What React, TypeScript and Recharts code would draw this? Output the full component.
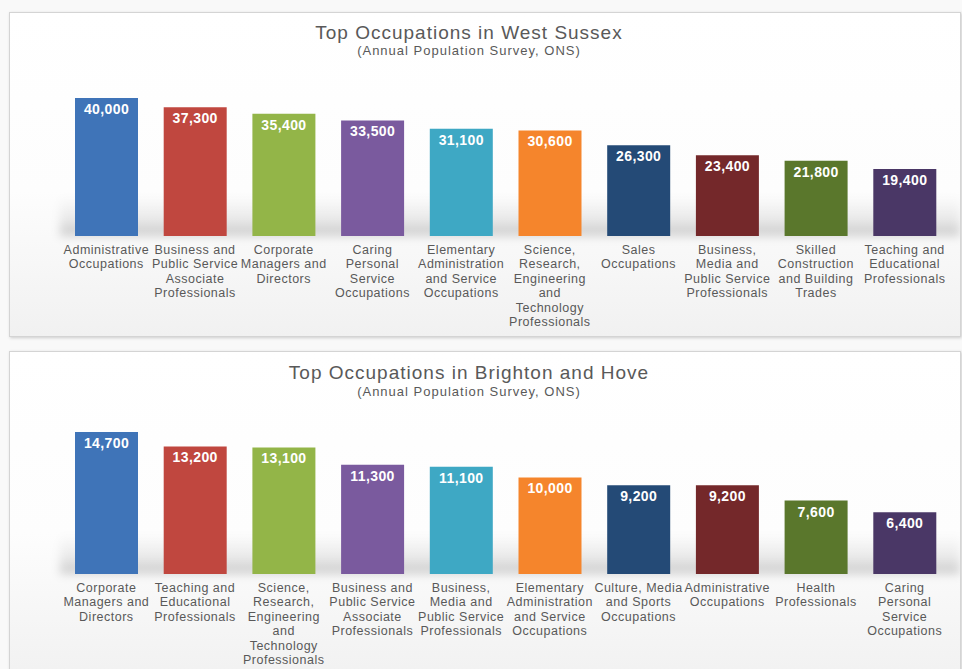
import { Bar, BarChart, Cell, LabelList, XAxis, YAxis } from "recharts";

const sussexCategories = [
  "Administrative\nOccupations",
  "Business and\nPublic Service\nAssociate\nProfessionals",
  "Corporate\nManagers and\nDirectors",
  "Caring\nPersonal\nService\nOccupations",
  "Elementary\nAdministration\nand Service\nOccupations",
  "Science,\nResearch,\nEngineering\nand\nTechnology\nProfessionals",
  "Sales\nOccupations",
  "Business,\nMedia and\nPublic Service\nProfessionals",
  "Skilled\nConstruction\nand Building\nTrades",
  "Teaching and\nEducational\nProfessionals",
];
const sussexValues = [40000, 37300, 35400, 33500, 31100, 30600, 26300, 23400, 21800, 19400];

const brightonCategories = [
  "Corporate\nManagers and\nDirectors",
  "Teaching and\nEducational\nProfessionals",
  "Science,\nResearch,\nEngineering\nand\nTechnology\nProfessionals",
  "Business and\nPublic Service\nAssociate\nProfessionals",
  "Business,\nMedia and\nPublic Service\nProfessionals",
  "Elementary\nAdministration\nand Service\nOccupations",
  "Culture, Media\nand Sports\nOccupations",
  "Administrative\nOccupations",
  "Health\nProfessionals",
  "Caring\nPersonal\nService\nOccupations",
];
const brightonValues = [14700, 13200, 13100, 11300, 11100, 10000, 9200, 9200, 7600, 6400];

const barColors = [
  "#3f74b8",
  "#c0473f",
  "#93b548",
  "#7a5a9e",
  "#3ea8c4",
  "#f5852c",
  "#244a76",
  "#74282a",
  "#5a772c",
  "#4a3766",
];

const FONT = "'Liberation Sans', Arial, sans-serif";

function CategoryTick(props: any) {
  const { x, y, payload } = props;
  const lines = String(payload.value).split("\n");
  return (
    <text
      x={x}
      y={y + 18}
      textAnchor="middle"
      fill="#595959"
      fontSize={12.5}
      fontFamily={FONT}
      letterSpacing={0.5}
    >
      {lines.map((line, i) => (
        <tspan key={i} x={x} dy={i === 0 ? 0 : 14.4}>
          {line}
        </tspan>
      ))}
    </text>
  );
}

interface PanelProps {
  title: string;
  categories: string[];
  values: number[];
  top: number;
  height: number;
  plotTop: number;
  plotBottomMargin: number;
  baseline: number;
  titleY: number;
  subtitleY: number;
}

function OccupationPanel({
  title,
  categories,
  values,
  top,
  height,
  plotTop,
  plotBottomMargin,
  baseline,
  titleY,
  subtitleY,
}: PanelProps) {
  const data = categories.map((name, i) => ({ name, value: values[i] }));
  return (
    <div
      style={{
        position: "absolute",
        left: 9,
        top,
        width: 952,
        height,
        border: "1px solid #d4d4d4",
        boxShadow: "1px 1px 3px rgba(0,0,0,0.18)",
        background: "linear-gradient(to bottom, #ffffff 0%, #fdfdfd 55%, #f1f1f1 100%)",
        boxSizing: "border-box",
        overflow: "hidden",
      }}
    >
      <div
        style={{
          position: "absolute",
          left: 50,
          width: 900,
          top: baseline - 40,
          height: 40,
          background:
            "linear-gradient(to bottom, rgba(0,0,0,0) 0%, rgba(0,0,0,0.07) 60%, rgba(0,0,0,0.19) 100%)",
          filter: "blur(5px)",
        }}
      />
      <div
        style={{
          position: "absolute",
          left: 0,
          width: 918,
          top: titleY - 12,
          textAlign: "center",
          fontFamily: FONT,
          fontSize: 19,
          letterSpacing: 1,
          color: "#595959",
          lineHeight: "24px",
        }}
      >
        {title}
      </div>
      <div
        style={{
          position: "absolute",
          left: 0,
          width: 918,
          top: subtitleY - 8,
          textAlign: "center",
          fontFamily: FONT,
          fontSize: 13,
          letterSpacing: 1,
          color: "#595959",
          lineHeight: "16px",
        }}
      >
        (Annual Population Survey, ONS)
      </div>
      <div style={{ position: "absolute", left: 0, top: 0 }}>
        <BarChart
          width={950}
          height={height}
          data={data}
          margin={{ top: plotTop, right: 11, bottom: plotBottomMargin, left: 52 }}
          barSize={63}
        >
          <XAxis
            dataKey="name"
            interval={0}
            axisLine={false}
            tickLine={false}
            tickSize={0}
            tickMargin={0}
            height={90}
            tick={<CategoryTick />}
          />
          <YAxis hide domain={[0, "dataMax"]} />
          <Bar dataKey="value" isAnimationActive={false}>
            {data.map((_, i) => (
              <Cell key={i} fill={barColors[i]} />
            ))}
            <LabelList
              dataKey="value"
              position="insideTop"
              offset={6}
              fill="#ffffff"
              fontSize={14}
              fontWeight="bold"
              fontFamily={FONT}
              letterSpacing={0.4}
              formatter={(v: any) => Number(v).toLocaleString("en-US")}
            />
          </Bar>
        </BarChart>
      </div>
    </div>
  );
}

export default function App() {
  return (
    <div
      style={{
        position: "absolute",
        left: 0,
        top: 0,
        width: 962,
        height: 669,
        overflow: "hidden",
        background: "#f9f9f9",
      }}
    >
      <OccupationPanel
        title="Top Occupations in West Sussex"
        categories={sussexCategories}
        values={sussexValues}
        top={12}
        height={325}
        plotTop={85}
        plotBottomMargin={12}
        baseline={223}
        titleY={20}
        subtitleY={38}
      />
      <OccupationPanel
        title="Top Occupations in Brighton and Hove"
        categories={brightonCategories}
        values={brightonValues}
        top={351}
        height={330}
        plotTop={80}
        plotBottomMargin={18}
        baseline={222}
        titleY={21}
        subtitleY={40}
      />
    </div>
  );
}
